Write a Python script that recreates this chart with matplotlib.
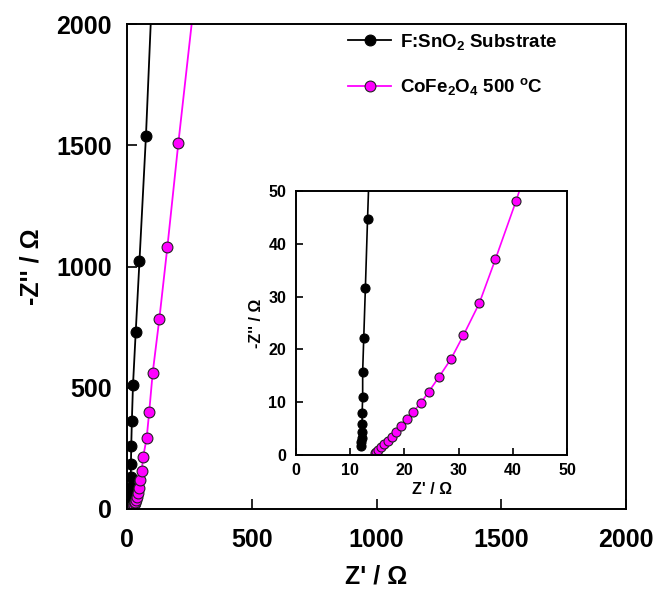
"""Nyquist plot: F:SnO2 substrate vs CoFe2O4 500 C film, with low-Z inset."""

import matplotlib

matplotlib.use("Agg")
import matplotlib.pyplot as plt  # noqa: E402

plt.rcParams["font.family"] = ["Liberation Sans", "DejaVu Sans"]
plt.rcParams["font.weight"] = "bold"
plt.rcParams["mathtext.fontset"] = "custom"
plt.rcParams["mathtext.rm"] = "Liberation Sans:bold"
plt.rcParams["mathtext.it"] = "Liberation Sans:bold"
plt.rcParams["mathtext.bf"] = "Liberation Sans:bold"
plt.rcParams["mathtext.default"] = "rm"

# F:SnO2 substrate (Z', -Z'') in ohm
fto_zre = [12.0, 12.0, 12.1, 12.1, 12.2, 12.2, 12.3, 12.3, 12.5, 12.8, 13.2,
           13.8, 14.5, 15.2, 15.8, 17.0, 19.5, 24.0, 35.0, 50.0, 76.0, 102.0]
fto_zim = [1.7, 2.4, 3.2, 4.3, 5.8, 7.9, 11.0, 15.8, 22.2, 31.6, 44.7,
           63.0, 90.0, 130.0, 186.0, 261.0, 364.0, 511.0, 731.0, 1023.0, 1539.0, 2170.0]

# CoFe2O4 film annealed at 500 C
cfo_zre = [14.5, 14.8, 15.2, 15.6, 16.3, 16.9, 17.7, 18.5, 19.4, 20.4, 21.6,
           23.0, 24.5, 26.4, 28.6, 30.9, 33.8, 36.8, 40.6, 46.0, 50.0, 54.0,
           59.0, 65.0, 79.0, 89.0, 103.0, 129.5, 162.0, 206.0, 270.0]
cfo_zim = [0.3, 0.6, 1.0, 1.5, 2.0, 2.7, 3.5, 4.4, 5.5, 6.8, 8.2,
           9.8, 12.0, 14.8, 18.2, 22.7, 28.7, 37.1, 48.1, 65.0, 88.0, 120.0,
           157.0, 216.0, 294.0, 401.0, 562.0, 783.0, 1082.0, 1511.0, 2100.0]

series_labels = ["F:SnO$_{2}$ Substrate",
                 "CoFe$_{\\mathregular{2}}$O$_{\\mathregular{4}}$ 500 $^{o}$C"]

main_ticks = [0, 500, 1000, 1500, 2000]
inset_ticks = [0, 10, 20, 30, 40, 50]

PINK = "#ff00ff"


def draw_series(ax, ms, lw):
    h1, = ax.plot(fto_zre, fto_zim, color="black", lw=lw, marker="o", ms=ms,
                  mfc="black", mec="black", mew=0.8)
    h2, = ax.plot(cfo_zre, cfo_zim, color=PINK, lw=lw, marker="o", ms=ms,
                  mfc=PINK, mec="#222222", mew=0.8)
    return h1, h2


def style_axes(ax, ticks, labelsize, ticklen):
    ax.set_xlim(ticks[0], ticks[-1])
    ax.set_ylim(ticks[0], ticks[-1])
    ax.set_xticks(ticks)
    ax.set_yticks(ticks)
    ax.tick_params(direction="in", length=ticklen, width=1.2, labelsize=labelsize,
                   top=False, right=False)
    for label in ax.get_xticklabels() + ax.get_yticklabels():
        label.set_fontweight("bold")
    for spine in ax.spines.values():
        spine.set_linewidth(1.4)


fig = plt.figure(figsize=(6.54, 5.96), dpi=100)

ax = fig.add_axes([127 / 654, 1 - 509 / 596, 499 / 654, 485 / 596])
handles = draw_series(ax, ms=7.8, lw=1.3)
style_axes(ax, main_ticks, 18, 7)
ax.tick_params(axis="x", pad=14)
ax.tick_params(axis="y", pad=11)
ax.set_xlabel("Z' / Ω", fontsize=18, fontweight="bold", labelpad=9)
ax.set_ylabel("-Z'' / Ω", fontsize=18, fontweight="bold", labelpad=9)

leg = ax.legend(handles, series_labels, loc="upper left",
                bbox_to_anchor=(348 / 654, 1 - 32 / 596),
                bbox_transform=fig.transFigure, frameon=False, fontsize=13.5,
                handlelength=2.3, handletextpad=0.5, labelspacing=1.3,
                borderpad=0, borderaxespad=0)
for text in leg.get_texts():
    text.set_fontweight("bold")

ins = fig.add_axes([296 / 654, 1 - 455 / 596, 271 / 654, 264 / 596])
draw_series(ins, ms=6.5, lw=1.2)
style_axes(ins, inset_ticks, 11.5, 5)
ins.tick_params(axis="y", pad=7)
ins.tick_params(axis="x", pad=6)
ins.set_xlabel("Z' / Ω", fontsize=11.5, fontweight="bold", labelpad=3)
ins.set_ylabel("-Z'' / Ω", fontsize=11.5, fontweight="bold", labelpad=3)

fig.savefig("out.png", dpi=100)
